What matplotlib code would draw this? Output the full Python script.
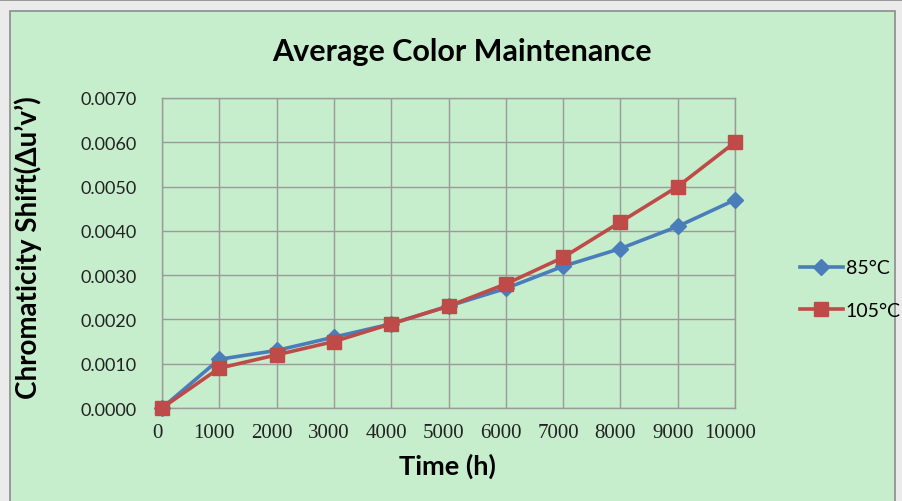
import numpy as np
import matplotlib
matplotlib.use("Agg")
import matplotlib.pyplot as plt
from matplotlib.patches import Rectangle
from matplotlib.transforms import ScaledTranslation

# data
hours = [0, 1000, 2000, 3000, 4000, 5000, 6000, 7000, 8000, 9000, 10000]
shift85 = [0.0, 0.0011, 0.0013, 0.0016, 0.0019, 0.0023, 0.0027, 0.0032, 0.0036, 0.0041, 0.0047]
shift105 = [0.0, 0.0009, 0.0012, 0.0015, 0.0019, 0.0023, 0.0028, 0.0034, 0.0042, 0.0050, 0.0060]
seriesNames = ["85°C", "105°C"]

W, H = 903, 502
fig = plt.figure(figsize=(W / 100, H / 100), dpi=100)
fig.patch.set_facecolor("#ebebeb")

# background layer: green chart panel and top border
bg = fig.add_axes([0, 0, 1, 1], zorder=-5)
bg.set_xlim(0, W)
bg.set_ylim(H, 0)
bg.axis("off")
bg.add_patch(Rectangle((10, 12), 885, 500, facecolor="#c6edcc",
                       edgecolor="#8c8c8c", linewidth=1.2))
bg.add_patch(Rectangle((0, 0), W, 2, facecolor="#9a9a9a", edgecolor="none"))

ax = fig.add_axes([162 / W, 1 - 409 / H, (735 - 162) / W, (409 - 99) / H], zorder=1)
ax.set_facecolor("none")

ax.plot(hours, shift85, color="#4a7ebb", linewidth=2.6, marker="D", markersize=8,
        label=seriesNames[0], clip_on=False, zorder=3)
ax.plot(hours, shift105, color="#be4b48", linewidth=2.6, marker="s", markersize=10,
        label=seriesNames[1], clip_on=False, zorder=4)

ax.set_xlim(0, 10000)
ax.set_ylim(0, 0.007)
ax.set_xticks(np.arange(0, 10001, 1000))
ax.set_yticks(np.arange(0, 0.00701, 0.001))
ax.set_yticklabels([f"{v:.4f}" for v in np.arange(0, 0.00701, 0.001)],
                   fontfamily="Lato", fontsize=13, color="#222222")
ax.set_xticklabels([str(v) for v in hours], fontfamily="Liberation Serif",
                   fontsize=15, color="#222222")
ax.tick_params(axis="y", length=0, pad=18)
ax.tick_params(axis="x", length=0, pad=11)
# excel draws the x labels a little left of the gridlines
for lbl in ax.get_xticklabels():
    lbl.set_transform(lbl.get_transform() + ScaledTranslation(-0.05, 0, fig.dpi_scale_trans))
ax.grid(True, color="#9a9a9a", linewidth=1)
for s in ax.spines.values():
    s.set_color("#9a9a9a")
    s.set_linewidth(1)

fig.text(462 / W, 1 - 52 / H, "Average Color Maintenance", ha="center", va="center",
         fontfamily="Lato", fontweight="bold", fontsize=22)
fig.text(447 / W, 1 - 466 / H, "Time (h)", ha="center", va="center",
         fontfamily="Lato", fontweight="bold", fontsize=19.5)
fig.text(28 / W, 1 - 248 / H, "Chromaticity Shift(Δu’v’)", ha="center", va="center",
         rotation=90, fontfamily=["Lato", "DejaVu Sans"], fontweight="bold", fontsize=20)

leg = ax.legend(loc="center left", bbox_to_anchor=(800 / W, 1 - 290 / H),
                bbox_transform=fig.transFigure, frameon=False, borderpad=0,
                borderaxespad=0, handlelength=2.2, handletextpad=0.15,
                labelspacing=1.3, prop={"family": "Lato", "size": 14})

fig.savefig("out.png", dpi=100, facecolor=fig.get_facecolor())
